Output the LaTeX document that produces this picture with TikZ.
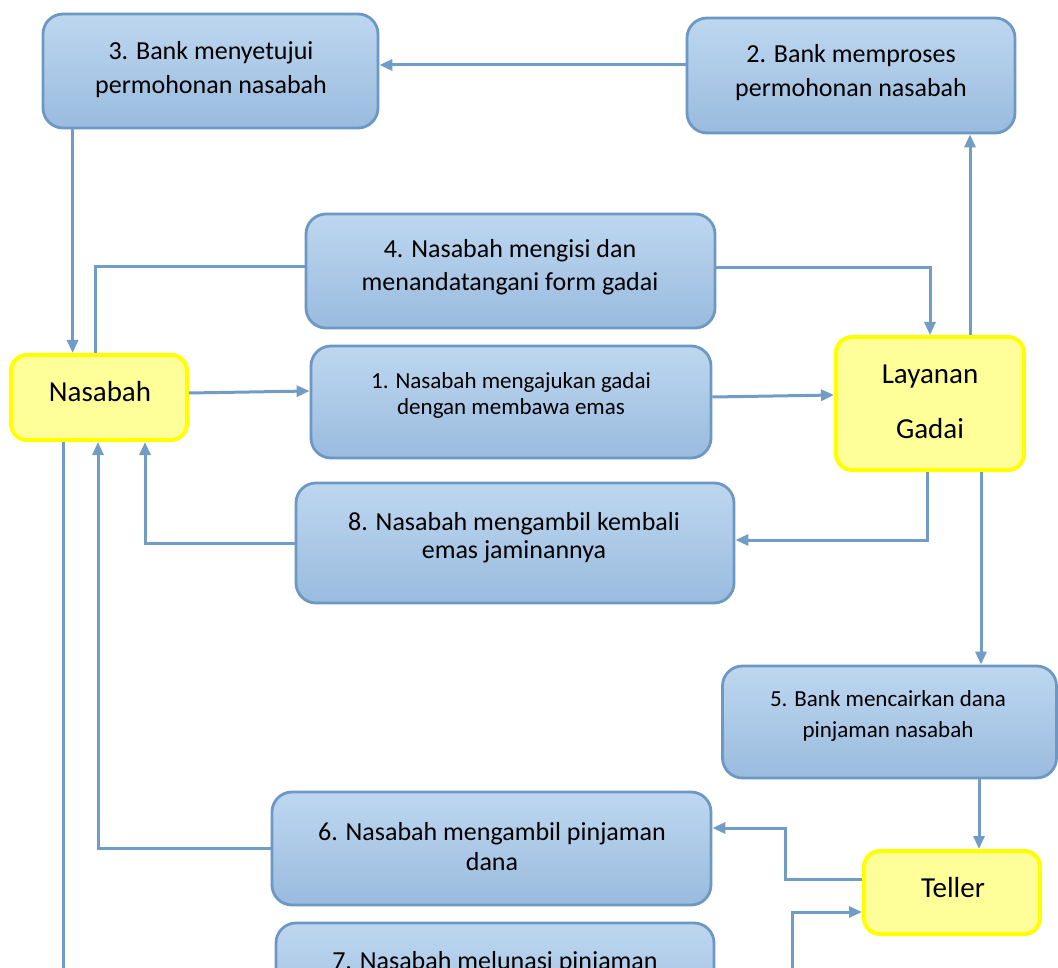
\documentclass[tikz,border=0pt]{standalone}
\usepackage{fontspec}
\setmainfont{Carlito}
\usetikzlibrary{arrows.meta,calc}
\definecolor{boxtop}{RGB}{190,215,240}
\definecolor{boxbot}{RGB}{153,187,222}
\definecolor{boxline}{RGB}{110,152,196}
\definecolor{conncol}{RGB}{112,156,198}
\definecolor{yfill}{RGB}{255,255,153}
\definecolor{yline}{RGB}{255,255,0}
\tikzset{
  bluebox/.style={draw=boxline, line width=2.8pt, rounded corners=20pt,
    top color=boxtop, bottom color=boxbot, inner sep=0pt},
  yellowbox/.style={draw=yline, fill=yfill, line width=4pt, rounded corners=16pt, inner sep=0pt},
  boxtext/.style={align=center, inner sep=0pt, font=\fontsize{26pt}{34pt}\selectfont},
  smalltext/.style={align=center, inner sep=0pt},
  bigtext/.style={align=center, inner sep=0pt, font=\fontsize{29pt}{55pt}\selectfont},
  conn/.style={draw=conncol, line width=3pt, -{Triangle[length=13pt,width=11pt]}},
  plainconn/.style={draw=conncol, line width=3pt}
}
\begin{document}
\begin{tikzpicture}[x=1pt,y=-1pt]
\useasboundingbox (0,0) rectangle (1058,968);
\clip (0,0) rectangle (1058,968);
\fill[white] (0,0) rectangle (1058,968);
% boxes
\node[bluebox, minimum width=335pt, minimum height=114pt] (n3) at (210.5,71) {};
\node[bluebox, minimum width=328pt, minimum height=115pt] (n2) at (851,75.5) {};
\node[bluebox, minimum width=409pt, minimum height=114pt] (n4) at (510.5,271) {};
\node[yellowbox, minimum width=176pt, minimum height=85pt] (nas) at (99,397.5) {};
\node[bluebox, minimum width=400pt, minimum height=112pt] (n1) at (511,402) {};
\node[yellowbox, minimum width=188pt, minimum height=133pt] (lg) at (930,403.5) {};
\node[bluebox, minimum width=438pt, minimum height=120pt] (n8) at (515,543) {};
\node[bluebox, minimum width=334pt, minimum height=112pt] (n5) at (889.5,722) {};
\node[bluebox, minimum width=439pt, minimum height=113pt] (n6) at (491.5,848.5) {};
\node[yellowbox, minimum width=176pt, minimum height=83pt] (tel) at (952,892.5) {};
\node[bluebox, minimum width=438pt, minimum height=113pt] (n7) at (495,979.5) {};
% texts
\node[boxtext] (n3t) at (211,69.5) {3. Bank menyetujui\\permohonan nasabah};
\node[boxtext] (n2t) at (851,72.5) {2. Bank memproses\\permohonan nasabah};
\node[boxtext, font=\fontsize{26pt}{33pt}\selectfont] (n4t) at (510,267) {4. Nasabah mengisi dan\\menandatangani form gadai};
\node[bigtext] (nast) at (100,392) {Nasabah};
\node[smalltext, font=\fontsize{23pt}{26pt}\selectfont] (n1t) at (511,395.5) {1. Nasabah mengajukan gadai\\dengan membawa emas};
\node[bigtext] (lgt) at (930,402) {Layanan\\Gadai};
\node[boxtext, font=\fontsize{26pt}{28.5pt}\selectfont] (n8t) at (514,537.5) {8. Nasabah mengambil kembali\\emas jaminannya};
\node[smalltext, font=\fontsize{23pt}{31pt}\selectfont] (n5t) at (888,716) {5. Bank mencairkan dana\\pinjaman nasabah};
\node[boxtext, font=\fontsize{26pt}{30pt}\selectfont] (n6t) at (492,846.5) {6. Nasabah mengambil pinjaman\\dana};
\node[bigtext] (telt) at (953,888) {Teller};
\node[boxtext] (n7t) at (495,962.5) {7. Nasabah melunasi pinjaman};
% connectors
\draw[conn] ([yshift=10.5pt]n2.west) -- ([yshift=10.5pt]n2.west -| n3.east);
\draw[conn] ([xshift=31pt]n3.south west) -- ([xshift=31pt]n3.south west |- nas.north);
\draw[plainconn] ([xshift=-4pt]nas.north) |- ([yshift=4pt]n4.west);
\draw[conn] ([yshift=3pt]n4.east) -| (lg.north);
\draw[conn] ([yshift=4.5pt]nas.east) -- ([yshift=11pt]n1.west);
\draw[conn] ([yshift=5pt]n1.east) -- ([yshift=8.5pt]lg.west);
\draw[conn] ([xshift=40pt]lg.north) -- ([xshift=40pt]lg.north |- n2.south);
\draw[conn] ([xshift=-3pt]lg.south) |- ([yshift=3pt]n8.east);
\draw[conn] (n8.west) -| ([xshift=46pt]nas.south);
\draw[conn] ([xshift=51pt]lg.south) -- ([xshift=51pt]lg.south |- n5.north);
\draw[conn] ([xshift=27pt]tel.north |- n5.south) -- ([xshift=27pt]tel.north);
\draw[conn] ([yshift=13.5pt]tel.west) -- ++(-77,0) |- ([yshift=20.5pt]n6.east);
\draw[conn] (n6.west) -| ([xshift=-1pt]nas.south);
\coordinate (nasdown) at (63,1000);
\draw[plainconn] ([xshift=-36pt]nas.south) -- (nasdown);
\coordinate (tellerin) at (792,1000);
\draw[conn] (tellerin) |- ([yshift=-19.5pt]tel.west);
\end{tikzpicture}
\end{document}
